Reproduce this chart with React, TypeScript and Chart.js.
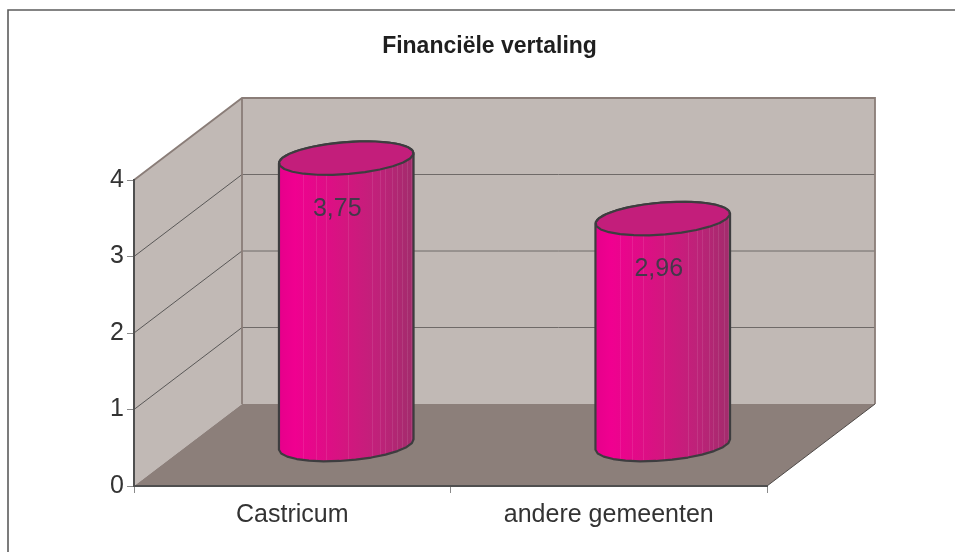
import React, { useEffect, useRef } from "react";
import { Chart, registerables } from "chart.js";

Chart.register(...registerables);

const categories = ["Castricum", "andere gemeenten"];
const values = [3.75, 2.96];
const yTicks = [0, 1, 2, 3, 4];
const title = "Financiële vertaling";

const DX = 108;
const DY = -82;
const BAR_DX = 54;
const BAR_DY = -41;
const RX = 67.5;
const RY = 16;
const TILT = (-4.5 * Math.PI) / 180;
const FACETS = [0.18, 0.275, 0.35, 0.51, 0.69, 0.75, 0.79, 0.84, 0.875, 0.91, 0.95, 0.98];
const LABEL_SHIFT = [-9, -4];
const FONT = "'Liberation Sans', Arial, sans-serif";

function ellipsePoint(cx: number, cy: number, a: number) {
  const px = RX * Math.cos(a);
  const py = RY * Math.sin(a);
  return [cx + px * Math.cos(TILT) - py * Math.sin(TILT), cy + px * Math.sin(TILT) + py * Math.cos(TILT)];
}

function ellipsePath(ctx: CanvasRenderingContext2D, cx: number, cy: number) {
  ctx.beginPath();
  for (let i = 0; i < 26; i++) {
    const [x, y] = ellipsePoint(cx, cy, (i / 26) * Math.PI * 2 + 0.1);
    if (i === 0) ctx.moveTo(x, y);
    else ctx.lineTo(x, y);
  }
  ctx.closePath();
}

function silhouette(ctx: CanvasRenderingContext2D, cx: number, top: number, base: number) {
  ctx.beginPath();
  const steps = 13;
  for (let i = 0; i <= steps; i++) {
    const [x, y] = ellipsePoint(cx, top, Math.PI + (i / steps) * Math.PI);
    if (i === 0) ctx.moveTo(x, y);
    else ctx.lineTo(x, y);
  }
  for (let i = 0; i <= steps; i++) {
    const [x, y] = ellipsePoint(cx, base, (i / steps) * Math.PI);
    ctx.lineTo(x, y);
  }
  ctx.closePath();
}

function bodyGradient(ctx: CanvasRenderingContext2D, cx: number) {
  const g = ctx.createLinearGradient(cx - RX, 0, cx + RX, 0);
  g.addColorStop(0, "#e6008b");
  g.addColorStop(0.12, "#f00090");
  g.addColorStop(0.5, "#d3167f");
  g.addColorStop(0.75, "#be2279");
  g.addColorStop(1, "#a22c6c");
  return g;
}

const scene = {
  id: "scene3d",
  afterLayout(chart: any) {
    if (chart.titleBlock) {
      chart.titleBlock.left = 24;
      chart.titleBlock.right = chart.width;
    }
  },
  beforeDraw(chart: any) {
    const { ctx, chartArea: a, scales } = chart;
    ctx.save();
    ctx.fillStyle = "#ffffff";
    ctx.fillRect(0, 0, chart.width, chart.height);
    ctx.strokeStyle = "#5c5c5c";
    ctx.lineWidth = 1.6;
    ctx.beginPath();
    ctx.moveTo(8, chart.height);
    ctx.lineTo(8, 10);
    ctx.lineTo(chart.width, 10);
    ctx.stroke();
    ctx.restore();

    const y0 = scales.y.getPixelForValue(0);
    const yMax = scales.y.getPixelForValue(yTicks[yTicks.length - 1]);
    ctx.save();
    ctx.fillStyle = "#c1b9b5";
    ctx.fillRect(a.left + DX, yMax + DY, a.width, y0 - yMax);
    ctx.beginPath();
    ctx.moveTo(a.left, y0);
    ctx.lineTo(a.left, yMax);
    ctx.lineTo(a.left + DX, yMax + DY);
    ctx.lineTo(a.left + DX, y0 + DY);
    ctx.closePath();
    ctx.fill();
    ctx.fillStyle = "#8c7f7a";
    ctx.beginPath();
    ctx.moveTo(a.left, y0);
    ctx.lineTo(a.right, y0);
    ctx.lineTo(a.right + DX, y0 + DY);
    ctx.lineTo(a.left + DX, y0 + DY);
    ctx.closePath();
    ctx.fill();
    yTicks.slice(1, -1).forEach((t) => {
      const y = scales.y.getPixelForValue(t);
      ctx.strokeStyle = "#3f3f3f";
      ctx.lineWidth = 0.8;
      ctx.beginPath();
      ctx.moveTo(a.left, y);
      ctx.lineTo(a.left + DX, y + DY);
      ctx.stroke();
      ctx.strokeStyle = "#6f6a68";
      ctx.lineWidth = 1;
      ctx.beginPath();
      ctx.moveTo(a.left + DX, y + DY);
      ctx.lineTo(a.right + DX, y + DY);
      ctx.stroke();
    });
    ctx.strokeStyle = "#8a7d78";
    ctx.lineWidth = 1.8;
    ctx.beginPath();
    ctx.moveTo(a.left, yMax);
    ctx.lineTo(a.left + DX, yMax + DY);
    ctx.lineTo(a.right + DX, yMax + DY);
    ctx.lineTo(a.right + DX, y0 + DY);
    ctx.moveTo(a.left + DX, yMax + DY);
    ctx.lineTo(a.left + DX, y0 + DY);
    ctx.stroke();
    ctx.strokeStyle = "#4f4a48";
    ctx.lineWidth = 1;
    ctx.beginPath();
    ctx.moveTo(a.right, y0);
    ctx.lineTo(a.right + DX, y0 + DY);
    ctx.stroke();
    ctx.restore();
  },
  beforeDatasetDraw(chart: any, args: any) {
    const { ctx } = chart;
    const els = args.meta.data;
    els.forEach((el: any) => {
      const cx = el.x + BAR_DX;
      silhouette(ctx, cx, el.y + BAR_DY, el.base + BAR_DY);
      ctx.fillStyle = bodyGradient(ctx, cx);
      ctx.fill();
    });
    ctx.save();
    ctx.beginPath();
    els.forEach((el: any) => {
      const cx = el.x + BAR_DX;
      const t = el.y + BAR_DY;
      const b = el.base + BAR_DY;
      ctx.moveTo(cx - RX, t + 6);
      ctx.lineTo(cx + RX, t - 6);
      ctx.lineTo(cx + RX, b - 6);
      ctx.lineTo(cx - RX, b + 6);
      ctx.closePath();
    });
    ctx.clip();
    ctx.translate(BAR_DX, BAR_DY);
  },
  afterDatasetDraw(chart: any, args: any) {
    const { ctx } = chart;
    ctx.restore();
    args.meta.data.forEach((el: any, i: number) => {
      const cx = el.x + BAR_DX;
      const top = el.y + BAR_DY;
      const base = el.base + BAR_DY;
      ctx.save();
      silhouette(ctx, cx, top, base);
      ctx.clip();
      ctx.strokeStyle = "rgba(255,255,255,0.09)";
      ctx.lineWidth = 1;
      FACETS.forEach((f) => {
        const x = Math.round(cx - RX + f * 2 * RX) + 0.5;
        ctx.beginPath();
        ctx.moveTo(x, top - 20);
        ctx.lineTo(x, base + 25);
        ctx.stroke();
      });
      ctx.restore();

      ctx.lineJoin = "round";
      ctx.strokeStyle = "#3d3d3f";
      ctx.lineWidth = 2.2;
      silhouette(ctx, cx, top, base);
      ctx.stroke();
      ellipsePath(ctx, cx, top);
      ctx.fillStyle = "#c31e7b";
      ctx.fill();
      ctx.stroke();

      ctx.fillStyle = "#43394a";
      ctx.font = `25px ${FONT}`;
      ctx.textAlign = "center";
      ctx.textBaseline = "middle";
      ctx.fillText(values[i].toFixed(2).replace(".", ","), cx + LABEL_SHIFT[i], top + 51);
    });
  },
};

export default function App() {
  const ref = useRef<HTMLCanvasElement>(null);
  useEffect(() => {
    const chart = new Chart(ref.current!, {
      type: "bar",
      data: {
        labels: categories,
        datasets: [
          {
            data: values,
            barThickness: 135,
            clip: false,
            backgroundColor: (c: any) => {
              if (c.dataIndex === undefined || !c.chart.scales.x) return "#d3167f";
              const x = c.chart.scales.x.getPixelForValue(c.dataIndex);
              return Number.isFinite(x) ? bodyGradient(c.chart.ctx, x) : "#d3167f";
            },
          } as any,
        ],
      },
      options: {
        responsive: false,
        animation: false,
        layout: { padding: { top: 0, right: 188, left: 0, bottom: 0 } },
        plugins: {
          legend: { display: false },
          tooltip: { enabled: false },
          title: {
            display: true,
            text: title,
            color: "#1f1f1f",
            font: { family: FONT, size: 23, weight: "bold" },
            padding: { top: 33.2, bottom: 119.2 },
          },
        },
        scales: {
          x: {
            afterFit: (s: any) => {
              s.height = 66;
            },
            grid: { drawOnChartArea: false, tickLength: 7, color: "#8a8a8a", lineWidth: 1 },
            border: { color: "#4f4f4f", width: 2 },
            ticks: { color: "#333333", font: { family: FONT, size: 25 }, padding: 7, maxRotation: 0 },
          },
          y: {
            min: 0,
            max: 4,
            afterFit: (s: any) => {
              s.width = 134;
            },
            afterBuildTicks: (s: any) => {
              s.ticks = yTicks.map((value) => ({ value }));
            },
            grid: { drawOnChartArea: false, tickLength: 7, color: "#8a8a8a", lineWidth: 1 },
            border: { color: "#4f4f4f", width: 2 },
            ticks: { color: "#333333", font: { family: FONT, size: 25 }, padding: 3 },
          },
        },
      },
      plugins: [scene],
    } as any);
    return () => chart.destroy();
  }, []);
  return (
    <div style={{ position: "absolute", left: 0, top: 0, width: 955, height: 552 }}>
      <canvas ref={ref} width={955} height={552} style={{ display: "block" }} />
    </div>
  );
}
